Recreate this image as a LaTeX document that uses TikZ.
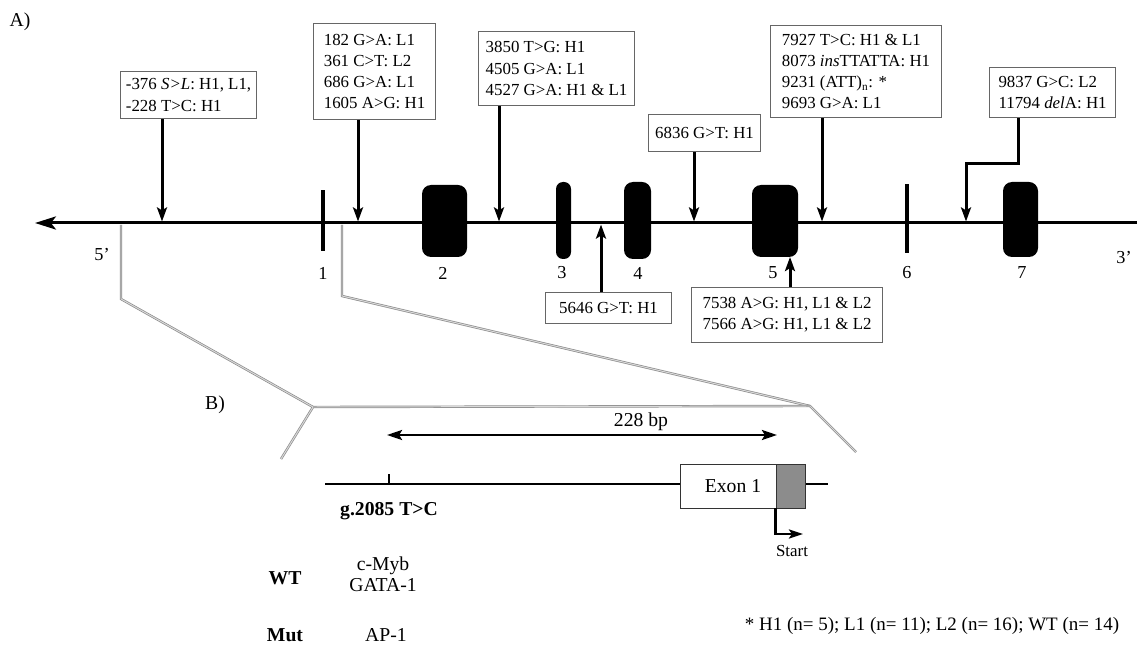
\documentclass[tikz,border=0pt]{standalone}
\usepackage{fontspec}
\setmainfont{Liberation Serif}
\usetikzlibrary{arrows.meta,positioning}
\newdimen\pxu
\pxu=0.025cm

\begin{document}
\begin{tikzpicture}[
    x=0.025cm, y=-0.025cm,
    mutbox/.style={rectangle, draw=black!60, line width=0.8pt, fill=white, align=left, inner sep=0pt, anchor=north west, font=\fontsize{12}{15}\selectfont},
    exon/.style={rectangle, fill=black, inner sep=0pt, rounded corners=9\pxu},
    intron/.style={rectangle, fill=black, inner sep=0pt, minimum width=4\pxu},
    numlabel/.style={inner sep=0pt, font=\fontsize{13}{15}\selectfont},
    btext/.style={inner sep=0pt, font=\fontsize{14}{15}\selectfont},
    arrow/.style={-{Stealth[length=10pt, width=7.1pt, inset=2.1pt]}, line width=3\pxu},
    zoomline/.style={draw=gray!90, double=gray!30, double distance=0.7pt, line width=0.5pt}
]
    \useasboundingbox (0,0) rectangle (1137,648);

    % panel A
    \node[btext] (lblA) at (20,22) {A)};

    \coordinate (zl0) at (121,225);
    \coordinate (zl1) at (121,299);
    \coordinate (zl2) at (313,407);
    \coordinate (zl3) at (281,459);
    \coordinate (zr0) at (342,225);
    \coordinate (zr1) at (342,296);
    \coordinate (zr2) at (810,406);
    \coordinate (zr3) at (856,452);
    \draw[zoomline] (zl0) -- (zl1) -- (zl2) -- (zl3);
    \draw[zoomline] (zr0) -- (zr1) -- (zr2) -- (zr3);
    \draw[zoomline] (zl2) -- (zr2);

    \coordinate (gR) at (1137,223);
    \coordinate (gL) at (35,223);
    \draw[line width=3\pxu, -{Stealth[length=14.9pt, width=9.3pt, inset=3.6pt]}] (gR) -- (gL);

    \node[intron, minimum height=61\pxu] (e1) at (323,220.5) {};
    \node[exon, minimum width=45\pxu, minimum height=72\pxu] (e2) at (444.5,221) {};
    \node[exon, minimum width=15\pxu, minimum height=77\pxu, rounded corners=7\pxu] (e3) at (563.5,220.5) {};
    \node[exon, minimum width=27\pxu, minimum height=77\pxu] (e4) at (637.5,220.5) {};
    \node[exon, minimum width=46\pxu, minimum height=72\pxu] (e5) at (775,221) {};
    \node[intron, minimum height=69\pxu] (e6) at (907,218.5) {};
    \node[exon, minimum width=35\pxu, minimum height=75\pxu] (e7) at (1020.5,219.5) {};

    \node[numlabel] (n5) at (102,255) {5’};
    \node[numlabel] (n1) at (323,273) {1};
    \node[numlabel] (n2) at (443,273) {2};
    \node[numlabel] (n3) at (562,273) {3};
    \node[numlabel] (n4) at (638,273) {4};
    \node[numlabel] (nn5) at (773,273) {5};
    \node[numlabel] (n6) at (907,273) {6};
    \node[numlabel] (n7) at (1022,273) {7};
    \node[numlabel] (n3p) at (1124,258) {3’};

    \node[mutbox, minimum width=136\pxu, minimum height=47\pxu] (b1) at (120,71) {-376 \textit{S>L}: H1, L1,\\-228 T>C: H1};
    \node[mutbox, minimum width=122\pxu, minimum height=96\pxu] (b2) at (313,23) {182 G>A: L1\\361 C>T: L2\\686 G>A: L1\\1605 A>G: H1};
    \node[mutbox, minimum width=156\pxu, minimum height=74\pxu] (b3) at (478,31) {3850 T>G: H1\\4505 G>A: L1\\4527 G>A: H1 \& L1};
    \node[mutbox, minimum width=112\pxu, minimum height=37\pxu] (b4) at (648,114) {6836 G>T: H1};
    \node[mutbox, minimum width=171\pxu, minimum height=92\pxu] (b5) at (770,25) {7927 T>C: H1 \& L1\\8073 \textit{ins}TTATTA: H1\\9231 (ATT)\textsubscript{n}: *\\9693 G>A: L1};
    \node[mutbox, minimum width=126\pxu, minimum height=50\pxu] (b6) at (989,67) {9837 G>C: L2\\11794 \textit{del}A: H1};
    \node[mutbox, minimum width=126\pxu, minimum height=31\pxu] (b7) at (545,292) {5646 G>T: H1};
    \node[mutbox, minimum width=191\pxu, minimum height=55\pxu] (b8) at (691,287) {7538 A>G: H1, L1 \& L2\\7566 A>G: H1, L1 \& L2};

    \coordinate (s1) at (162,221.5);
    \coordinate (s2) at (358,221.5);
    \coordinate (s3) at (499,221.5);
    \coordinate (s4) at (601,224.5);
    \coordinate (s5) at (694,221.5);
    \coordinate (s6) at (790,257);
    \coordinate (s7) at (822,221.5);
    \coordinate (s8) at (966,221.5);
    \coordinate (k8) at (1018,164);

    \draw[arrow] (b1.south -| s1) -- (s1);
    \draw[arrow] (b2.south -| s2) -- (s2);
    \draw[arrow] (b3.south -| s3) -- (s3);
    \draw[arrow] (b7.north -| s4) -- (s4);
    \draw[arrow] (b4.south -| s5) -- (s5);
    \draw[arrow] (b8.north -| s6) -- (s6);
    \draw[arrow] (b5.south -| s7) -- (s7);
    \draw[arrow] (b6.south -| k8) -- (k8) -| (s8);

    % panel B
    \node[btext] (lblB) at (215,405) {B)};

    \coordinate (d1) at (387,435);
    \coordinate (d2) at (777,435);
    \draw[{Stealth[length=10.7pt, width=7.1pt, inset=2.1pt]}-{Stealth[length=10.7pt, width=7.1pt, inset=2.1pt]}, line width=2.5\pxu] (d1) -- (d2);
    \node[btext] (bp) at (641,422) {228 bp};

    \coordinate (bl) at (325,484);
    \coordinate (br) at (828,484);
    \draw[line width=2.5\pxu] (bl) -- (br);
    \coordinate (snp) at (389,484);
    \draw[line width=1.5\pxu] (snp) -- ++(0,-10);

    \node[rectangle, draw=black!80, fill=white, line width=0.7pt, minimum width=96\pxu, minimum height=44\pxu, inner sep=0pt, btext] (x1) at (728,486) {\hspace*{10\pxu}Exon 1};
    \node[rectangle, draw=black!80, fill=black!45, line width=0.7pt, minimum width=29\pxu, minimum height=44\pxu, inner sep=0pt] (utr) at (790.5,486) {};

    \coordinate (st) at (803,534);
    \draw[line width=2.5\pxu, -{Stealth[length=10pt, width=6.4pt, inset=2.1pt]}] (utr.south west) |- (st);
    \node[numlabel, font=\fontsize{12}{14}\selectfont] (start) at (792,551) {Start};

    \node[btext, font=\fontsize{14}{15}\selectfont\bfseries] (snpl) at (389,511) {g.2085 T>C};

    \node[btext, font=\fontsize{14}{15}\selectfont\bfseries] (wt) at (285,578) {WT};
    \node[btext, align=center] (wtsites) at (383,574) {c-Myb\\GATA-1};
    \node[btext, font=\fontsize{14}{15}\selectfont\bfseries] (mut) at (285,635) {Mut};
    \node[btext] (mutsites) at (386,635) {AP-1};

    \node[btext, font=\fontsize{13.5}{15}\selectfont] (foot) at (932,626) {* H1 (n= 5); L1 (n= 11); L2 (n= 16); WT (n= 14)};
\end{tikzpicture}
\end{document}
